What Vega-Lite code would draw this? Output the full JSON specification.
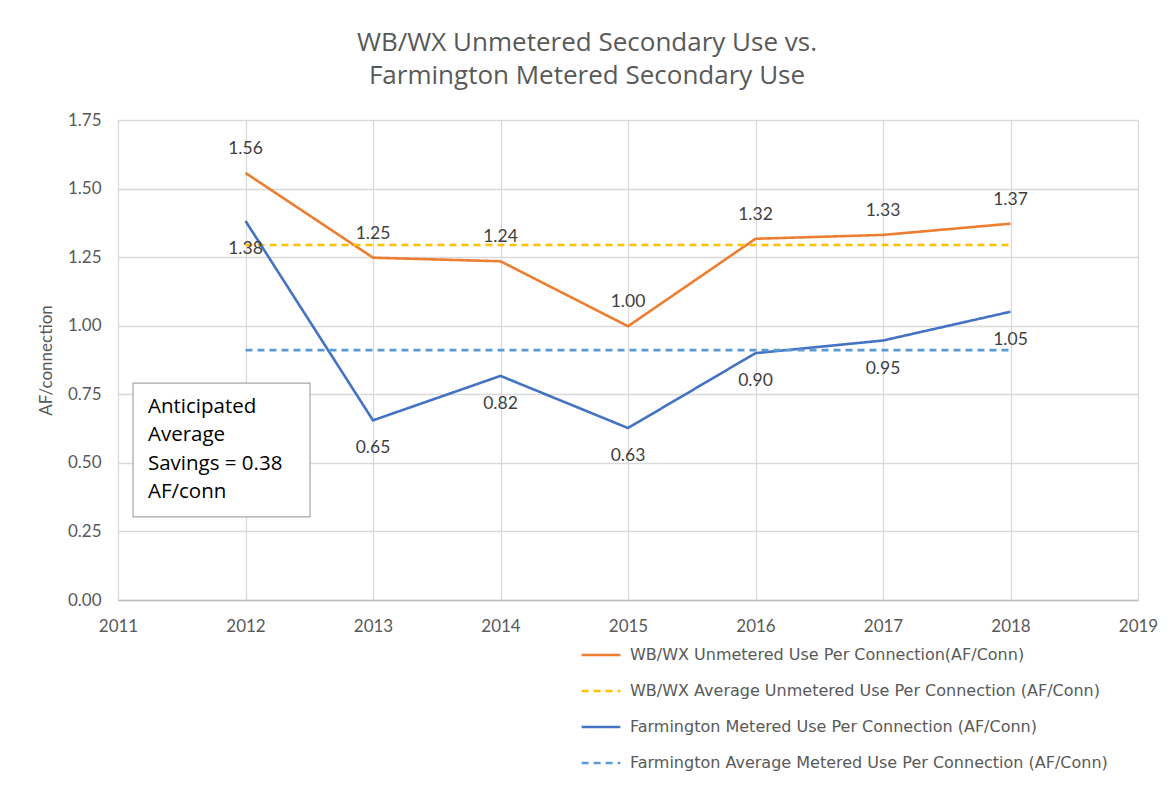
{
  "$schema": "https://vega.github.io/schema/vega-lite/v6.json",
  "width": 1020,
  "height": 480,
  "autosize": {"type": "none"},
  "padding": {"left": 118, "top": 120, "right": 35, "bottom": 202},
  "background": "white",
  "title": {
    "text": ["WB/WX Unmetered Secondary Use vs.", "Farmington Metered Secondary Use"],
    "anchor": "middle",
    "dx": -41,
    "offset": 22,
    "fontSize": 26,
    "lineHeight": 33,
    "font": "Open Sans",
    "fontWeight": "normal",
    "color": "#595959"
  },
  "config": {
    "font": "Lato",
    "view": {"stroke": null},
    "axis": {
      "gridColor": "#d9d9d9",
      "gridWidth": 1.3,
      "labelColor": "#595959",
      "labelFontSize": 17,
      "labelFont": "Lato",
      "ticks": false,
      "titleColor": "#595959",
      "titleFontWeight": "normal",
      "titleFont": "Lato"
    }
  },
  "data": {
    "values": [
      {"year": 2012, "series": "WB/WX Unmetered Use Per Connection(AF/Conn)", "value": 1.557, "label": "1.56"},
      {"year": 2013, "series": "WB/WX Unmetered Use Per Connection(AF/Conn)", "value": 1.248, "label": "1.25"},
      {"year": 2014, "series": "WB/WX Unmetered Use Per Connection(AF/Conn)", "value": 1.235, "label": "1.24"},
      {"year": 2015, "series": "WB/WX Unmetered Use Per Connection(AF/Conn)", "value": 0.998, "label": "1.00"},
      {"year": 2016, "series": "WB/WX Unmetered Use Per Connection(AF/Conn)", "value": 1.317, "label": "1.32"},
      {"year": 2017, "series": "WB/WX Unmetered Use Per Connection(AF/Conn)", "value": 1.331, "label": "1.33"},
      {"year": 2018, "series": "WB/WX Unmetered Use Per Connection(AF/Conn)", "value": 1.372, "label": "1.37"},
      {"year": 2012, "series": "WB/WX Average Unmetered Use Per Connection (AF/Conn)", "value": 1.294},
      {"year": 2018, "series": "WB/WX Average Unmetered Use Per Connection (AF/Conn)", "value": 1.294},
      {"year": 2012, "series": "Farmington Metered Use Per Connection (AF/Conn)", "value": 1.382, "label": "1.38"},
      {"year": 2013, "series": "Farmington Metered Use Per Connection (AF/Conn)", "value": 0.655, "label": "0.65"},
      {"year": 2014, "series": "Farmington Metered Use Per Connection (AF/Conn)", "value": 0.817, "label": "0.82"},
      {"year": 2015, "series": "Farmington Metered Use Per Connection (AF/Conn)", "value": 0.627, "label": "0.63"},
      {"year": 2016, "series": "Farmington Metered Use Per Connection (AF/Conn)", "value": 0.900, "label": "0.90"},
      {"year": 2017, "series": "Farmington Metered Use Per Connection (AF/Conn)", "value": 0.946, "label": "0.95"},
      {"year": 2018, "series": "Farmington Metered Use Per Connection (AF/Conn)", "value": 1.051, "label": "1.05"},
      {"year": 2012, "series": "Farmington Average Metered Use Per Connection (AF/Conn)", "value": 0.911},
      {"year": 2018, "series": "Farmington Average Metered Use Per Connection (AF/Conn)", "value": 0.911}
    ]
  },
  "layer": [
    {
      "mark": {"type": "line", "strokeWidth": 2.6},
      "encoding": {
        "x": {
          "field": "year", "type": "quantitative",
          "scale": {"domain": [2011, 2019], "nice": false, "zero": false},
          "axis": {"title": null, "format": "d", "values": [2011,2012,2013,2014,2015,2016,2017,2018,2019], "labelOverlap": false, "labelFlush": false, "domain": true, "domainColor": "#bfbfbf", "domainWidth": 1.5, "labelPadding": 18}
        },
        "y": {
          "field": "value", "type": "quantitative",
          "scale": {"domain": [0, 1.75], "nice": false},
          "axis": {"title": "AF/connection", "format": ".2f", "values": [0,0.25,0.5,0.75,1,1.25,1.5,1.75], "labelOverlap": false, "domain": false, "labelPadding": 17, "titleFontSize": 17, "titlePadding": 12}
        },
        "color": {
          "field": "series", "type": "nominal",
          "scale": {
            "domain": ["WB/WX Unmetered Use Per Connection(AF/Conn)", "WB/WX Average Unmetered Use Per Connection (AF/Conn)", "Farmington Metered Use Per Connection (AF/Conn)", "Farmington Average Metered Use Per Connection (AF/Conn)"],
            "range": ["#ED7D31", "#FFC000", "#4472C4", "#5B9BD5"]
          },
          "legend": {
            "title": null,
            "orient": "none",
            "legendX": 462,
            "legendY": 514,
            "symbolType": "stroke",
            "symbolSize": 1500,
            "symbolStrokeWidth": 2.6,
            "labelFontSize": 16,
            "labelColor": "#595959",
            "labelFont": "DejaVu Sans",
            "rowPadding": 7,
            "labelOffset": 8,
            "labelLimit": 600
          }
        },
        "strokeDash": {
          "field": "series", "type": "nominal",
          "scale": {
            "domain": ["WB/WX Unmetered Use Per Connection(AF/Conn)", "WB/WX Average Unmetered Use Per Connection (AF/Conn)", "Farmington Metered Use Per Connection (AF/Conn)", "Farmington Average Metered Use Per Connection (AF/Conn)"],
            "range": [[1, 0], [7, 5], [1, 0], [7, 5]]
          },
          "legend": null
        }
      }
    },
    {
      "transform": [{"filter": "datum.series === 'WB/WX Unmetered Use Per Connection(AF/Conn)'"}],
      "mark": {"type": "text", "dy": -24, "fontSize": 17.5, "color": "#404040", "font": "Lato"},
      "encoding": {
        "x": {"field": "year", "type": "quantitative"},
        "y": {"field": "value", "type": "quantitative"},
        "text": {"field": "label"}
      }
    },
    {
      "transform": [{"filter": "datum.series === 'Farmington Metered Use Per Connection (AF/Conn)'"}],
      "mark": {"type": "text", "dy": 28, "fontSize": 17.5, "color": "#404040", "font": "Lato"},
      "encoding": {
        "x": {"field": "year", "type": "quantitative"},
        "y": {"field": "value", "type": "quantitative"},
        "text": {"field": "label"}
      }
    },
    {
      "data": {"values": [{"note": "Anticipated Average Savings = 0.38 AF/conn"}]},
      "mark": {"type": "rect", "fill": "white", "stroke": "#a6a6a6", "strokeWidth": 1.2},
      "encoding": {
        "x": {"datum": 2011.118, "type": "quantitative"},
        "x2": {"datum": 2012.506},
        "y": {"datum": 0.791, "type": "quantitative"},
        "y2": {"datum": 0.303}
      }
    },
    {
      "data": {"values": [{"note": "Anticipated Average Savings = 0.38 AF/conn"}]},
      "mark": {"type": "text", "align": "left", "baseline": "middle", "fontSize": 20.5, "lineHeight": 28.5, "color": "#000000", "font": "Open Sans"},
      "encoding": {
        "x": {"datum": 2011.235, "type": "quantitative"},
        "y": {"datum": 0.704, "type": "quantitative"},
        "text": {"value": ["Anticipated", "Average", "Savings = 0.38", "AF/conn"]}
      }
    }
  ]
}
